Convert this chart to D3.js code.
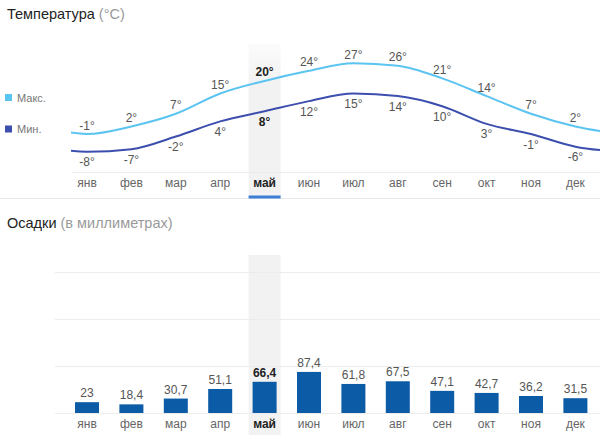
<!DOCTYPE html>
<html><head><meta charset="utf-8">
<script src="https://cdn.jsdelivr.net/npm/d3@7"></script>
<style>
html,body{margin:0;padding:0;background:#fff;}
svg{display:block;font-family:"Liberation Sans",Arial,sans-serif;}
</style></head><body>
<svg id="c" width="600" height="435"></svg>
<script>
const months = ["янв","фев","мар","апр","май","июн","июл","авг","сен","окт","ноя","дек"];
const tMax = [-1,2,7,15,20,24,27,26,21,14,7,2];
const tMin = [-8,-7,-2,4,8,12,15,14,10,3,-1,-6];
const precip = [23,18.4,30.7,51.1,66.4,87.4,61.8,67.5,47.1,42.7,36.2,31.5];
const precipLabels = ["23","18,4","30,7","51,1","66,4","87,4","61,8","67,5","47,1","42,7","36,2","31,5"];
const precipGrid = [100,200,300];
const highlight = 4;

const svg = d3.select("#c");
const defs = svg.append("defs");
const grad = defs.append("linearGradient").attr("id","hg").attr("x1",0).attr("y1",0).attr("x2",0).attr("y2",1);
grad.append("stop").attr("offset","0%").attr("stop-color","#f2f2f2").attr("stop-opacity",0.3);
grad.append("stop").attr("offset","25%").attr("stop-color","#f2f2f2").attr("stop-opacity",1);
grad.append("stop").attr("offset","100%").attr("stop-color","#f2f2f2").attr("stop-opacity",1);

const x = d3.scaleBand().domain(months).range([64.8, 597.6]).padding(0);
const cx = m => x(m) + x.bandwidth()/2;
const step = x.step();

// ---------- Temperature ----------
const yT = d3.scaleLinear().domain([0, 27]).range([131.5, 63.2]);

// highlight band
svg.append("rect").attr("x", cx(months[highlight]) - 16).attr("y", 44)
  .attr("width", 32).attr("height", 153).attr("fill", "url(#hg)");
svg.append("rect").attr("x", cx(months[highlight]) - 16).attr("y", 255)
  .attr("width", 32).attr("height", 180).attr("fill", "#f2f2f2");

// title
const t1 = svg.append("text").attr("x", 7).attr("y", 19).attr("font-size", 14.5).attr("fill", "#222");
t1.append("tspan").text("Температура ");
t1.append("tspan").attr("fill", "#9a9a9a").text("(°C)");

// legend
svg.append("rect").attr("x", 5).attr("y", 94).attr("width", 7).attr("height", 7).attr("fill", "#5bc4f1");
svg.append("text").attr("x", 17).attr("y", 101.5).attr("font-size", 11).attr("fill", "#777").text("Макс.");
svg.append("rect").attr("x", 5).attr("y", 125.5).attr("width", 7).attr("height", 7).attr("fill", "#3c4fae");
svg.append("text").attr("x", 17).attr("y", 133).attr("font-size", 11).attr("fill", "#777").text("Мин.");

// axis line
svg.append("line").attr("x1", 72).attr("x2", 600).attr("y1", 172.5).attr("y2", 172.5)
  .attr("stroke", "#ececec").attr("stroke-width", 1);
svg.append("line").attr("x1", 0).attr("x2", 600).attr("y1", 198.5).attr("y2", 198.5)
  .attr("stroke", "#e8e8e8").attr("stroke-width", 1);

defs.append("clipPath").attr("id","lc").append("rect").attr("x",71).attr("y",0).attr("width",529).attr("height",200);

function ext(arr){
  // wrap-around neighbors so the curve runs to the plot edges
  const pts = arr.map((v,i)=>[cx(months[i]), v]);
  pts.unshift([cx(months[0]) - step, arr[arr.length-1]]);
  pts.push([cx(months[11]) + step, arr[0]]);
  return pts;
}
const line = d3.line().x(d=>d[0]).y(d=>yT(d[1])).curve(d3.curveMonotoneX);
const lg = svg.append("g").attr("clip-path","url(#lc)");
lg.append("path").attr("d", line(ext(tMax))).attr("fill","none").attr("stroke","#5bc4f1").attr("stroke-width",2);
lg.append("path").attr("d", line(ext(tMin))).attr("fill","none").attr("stroke","#3c4fae").attr("stroke-width",2);

svg.append("g").selectAll("text").data(tMax).join("text")
  .attr("x",(d,i)=>cx(months[i])).attr("y",d=>yT(d)-4.5)
  .attr("text-anchor","middle").attr("font-size",12)
  .attr("font-weight",(d,i)=>i===highlight?"bold":"normal")
  .attr("fill",(d,i)=>i===highlight?"#222":"#555")
  .text(d=>d+"°");
svg.append("g").selectAll("text").data(tMin).join("text")
  .attr("x",(d,i)=>cx(months[i])).attr("y",d=>yT(d)+14.5)
  .attr("text-anchor","middle").attr("font-size",12)
  .attr("font-weight",(d,i)=>i===highlight?"bold":"normal")
  .attr("fill",(d,i)=>i===highlight?"#222":"#555")
  .text(d=>d+"°");

// month axis (top)
const axTop = svg.append("g").attr("transform","translate(0,187)")
  .call(d3.axisBottom(x).tickSize(0).tickPadding(0));
axTop.select(".domain").remove();
axTop.selectAll("text").attr("font-size",12).attr("font-family","Liberation Sans, Arial, sans-serif")
  .attr("dy","0").attr("fill",(d,i)=>i===highlight?"#222":"#666")
  .attr("font-weight",(d,i)=>i===highlight?"bold":"normal");
svg.append("rect").attr("x", cx(months[highlight]) - 16).attr("y", 195.5)
  .attr("width", 32).attr("height", 3).attr("fill", "#3d7fd6");

// ---------- Precipitation ----------
const t2 = svg.append("text").attr("x", 7).attr("y", 228).attr("font-size", 14.5).attr("fill", "#222");
t2.append("tspan").text("Осадки ");
t2.append("tspan").attr("fill", "#9a9a9a").text("(в миллиметрах)");

const yP = d3.scaleLinear().domain([0, 300]).range([413, 272]);
svg.append("g").selectAll("line").data([0].concat(precipGrid)).join("line")
  .attr("x1",55).attr("x2",600).attr("y1",d=>Math.round(yP(d))+0.5).attr("y2",d=>Math.round(yP(d))+0.5)
  .attr("stroke","#ececec").attr("stroke-width",1);

svg.append("g").selectAll("rect").data(precip).join("rect")
  .attr("x",(d,i)=>cx(months[i])-12).attr("width",24)
  .attr("y",d=>yP(d)).attr("height",d=>yP(0)-yP(d))
  .attr("fill","#0b5ba6");
svg.append("g").selectAll("text").data(precip).join("text")
  .attr("x",(d,i)=>cx(months[i])).attr("y",d=>yP(d)-5)
  .attr("text-anchor","middle").attr("font-size",12)
  .attr("font-weight",(d,i)=>i===highlight?"bold":"normal")
  .attr("fill",(d,i)=>i===highlight?"#222":"#555")
  .text((d,i)=>precipLabels[i]);

const axBot = svg.append("g").attr("transform","translate(0,428)")
  .call(d3.axisBottom(x).tickSize(0).tickPadding(0));
axBot.select(".domain").remove();
axBot.selectAll("text").attr("font-size",12).attr("font-family","Liberation Sans, Arial, sans-serif")
  .attr("dy","0").attr("fill",(d,i)=>i===highlight?"#222":"#666")
  .attr("font-weight",(d,i)=>i===highlight?"bold":"normal");
</script>
</body></html>
